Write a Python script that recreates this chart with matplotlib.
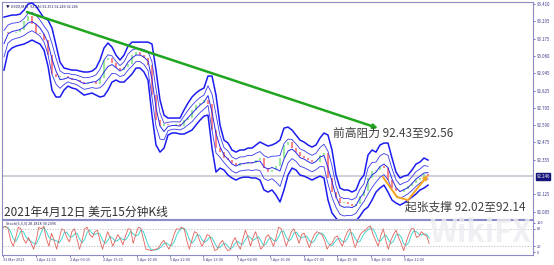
# USDX M15 chart with bands, stochastic and annotations
import matplotlib
matplotlib.use("Agg")
import matplotlib.pyplot as plt
import numpy as np
import pandas as pd

plt.rcParams['font.family'] = ['Noto Sans CJK SC', 'DejaVu Sans']

# closes sampled along the chart (one value every few 15-min bars)
close = [93.221, 93.214, 93.214, 93.221, 93.234, 93.295, 93.329, 93.275, 93.214, 93.207,
         93.167, 93.065, 92.937, 92.917, 92.924, 92.924, 92.910, 92.897, 92.897, 92.883,
         92.870, 92.876, 92.883, 92.870, 92.910, 93.032, 93.045, 93.011, 92.978, 92.964,
         92.984, 93.005, 93.065, 93.086, 93.065, 93.045, 92.998, 92.795, 92.626, 92.586,
         92.599, 92.593, 92.593, 92.599, 92.586, 92.626, 92.640, 92.694, 92.728, 92.741,
         92.762, 92.735, 92.559, 92.437, 92.410, 92.370, 92.356, 92.336, 92.316, 92.336,
         92.329, 92.343, 92.336, 92.356, 92.370, 92.302, 92.275, 92.289, 92.316, 92.370,
         92.458, 92.478, 92.437, 92.410, 92.383, 92.370, 92.356, 92.343, 92.343, 92.390,
         92.404, 92.235, 92.140, 92.100, 92.066, 92.073, 92.059, 92.046, 92.059, 92.113,
         92.147, 92.235, 92.282, 92.289, 92.316, 92.302, 92.221, 92.167, 92.147, 92.140,
         92.160, 92.181, 92.201, 92.221, 92.235, 92.262, 92.246]

upper = [93.322, 93.329, 93.336, 93.336, 93.342, 93.369, 93.410, 93.417, 93.396, 93.356,
         93.315, 93.302, 93.248, 93.133, 93.018, 92.978, 92.971, 92.964, 92.964, 92.957,
         92.951, 92.951, 92.957, 92.978, 93.032, 93.113, 93.147, 93.119, 93.065, 93.032,
         93.065, 93.126, 93.153, 93.153, 93.153, 93.153, 93.153, 93.140, 92.964, 92.762,
         92.660, 92.640, 92.640, 92.640, 92.640, 92.694, 92.741, 92.782, 92.809, 92.829,
         92.843, 92.924, 92.924, 92.795, 92.593, 92.491, 92.471, 92.424, 92.410, 92.424,
         92.424, 92.437, 92.437, 92.458, 92.478, 92.464, 92.451, 92.458, 92.471, 92.491,
         92.572, 92.579, 92.559, 92.525, 92.491, 92.478, 92.458, 92.444, 92.458, 92.505,
         92.539, 92.525, 92.424, 92.255, 92.167, 92.154, 92.154, 92.140, 92.154, 92.221,
         92.255, 92.390, 92.424, 92.410, 92.458, 92.471, 92.471, 92.370, 92.275, 92.235,
         92.248, 92.255, 92.289, 92.329, 92.343, 92.370, 92.356]

lower = [92.964, 93.086, 93.113, 93.126, 93.133, 93.140, 93.153, 93.167, 93.153, 93.140,
         93.099, 92.991, 92.829, 92.782, 92.782, 92.829, 92.856, 92.843, 92.836, 92.816,
         92.795, 92.802, 92.809, 92.795, 92.782, 92.789, 92.829, 92.883, 92.897, 92.883,
         92.883, 92.910, 92.937, 92.978, 92.978, 92.951, 92.897, 92.660, 92.458, 92.410,
         92.437, 92.525, 92.539, 92.539, 92.532, 92.532, 92.545, 92.559, 92.593, 92.626,
         92.653, 92.660, 92.437, 92.275, 92.302, 92.289, 92.255, 92.235, 92.221, 92.235,
         92.241, 92.241, 92.235, 92.235, 92.221, 92.154, 92.140, 92.154, 92.120, 92.073,
         92.154, 92.255, 92.302, 92.289, 92.255, 92.248, 92.235, 92.221, 92.235, 92.248,
         92.235, 92.086, 91.998, 91.964, 91.930, 91.920, 91.925, 91.930, 91.945, 91.978,
         92.018, 92.039, 92.086, 92.140, 92.167, 92.187, 92.140, 92.086, 92.066, 92.052,
         92.066, 92.086, 92.106, 92.127, 92.154, 92.167, 92.187]

stoch_k = [85, 88, 80, 40, 20, 50, 85, 80, 45, 30, 50, 30, 10, 40, 85, 80, 88, 45, 20, 65,
           40, 10, 45, 80, 75, 50, 35, 70, 80, 45, 10, 40, 80, 85, 60, 50, 70, 75, 40, 10,
           40, 70, 50, 20, 40, 60, 45, 25, 55, 80, 78, 30, 60, 85, 82, 45, 10, 8, 5, 8,
           10, 15, 30, 40, 25, 10, 30, 60, 80, 78, 85, 80, 40, 10, 40, 70, 65, 40, 20, 40,
           60, 55, 30, 5, 10, 30, 40, 20, 5, 8, 35, 50, 25, 10, 45, 75, 50, 20, 50, 70,
           40, 10, 20, 50, 60, 40, 20, 50, 85,
           80, 50, 20, 45, 70, 80, 55, 30, 60, 65, 40, 15, 40, 60, 70, 65, 60, 40, 10, 25,
           30, 50, 55, 35, 20, 50, 70, 80, 45, 15, 40, 60, 70, 75, 85, 90, 60, 40, 20, 55,
           80, 40, 10, 40, 60, 75, 50, 30, 5, 35, 60, 80, 80, 50, 55, 70, 60, 55, 30]

price_ticks = [93.410, 93.295, 93.175, 93.060, 92.945, 92.825, 92.705, 92.590,
               92.475, 92.355, 92.125, 92.005]
last_price = 92.246
stoch_ticks = [100, 80, 20, 0]
time_labels = ['31 Mar 2021', '1 Apr 12:15', '2 Apr 03:15', '2 Apr 15:15', '5 Apr 10:00',
               '5 Apr 22:00', '6 Apr 13:00', '7 Apr 04:00', '7 Apr 16:00', '8 Apr 07:00',
               '8 Apr 19:00', '9 Apr 10:00', '9 Apr 22:00']

# drawn annotations: (bar index, price)
resist_line = [(5.75, 93.356), (93.5, 92.572)]
support_line = [(94.75, 92.241), (98.25, 92.106), (101.0, 92.086), (106.0, 92.255)]
resist_text = '前高阻力 92.43至92.56'
support_text = '起张支撑 92.02至92.14'
title_text = '2021年4月12日 美元15分钟K线'
header_text = '▼ USDX,M15  92.246 92.251 92.246 92.246'
stoch_text = 'Stoch(5,3,3) 28.1818 39.2396'

W, H = 554, 265
fig = plt.figure(figsize=(W / 100, H / 100), dpi=100)
ax = fig.add_axes([2 / W, 1 - 219 / H, 531 / W, 217 / H])
ax2 = fig.add_axes([2 / W, 1 - 255 / H, 531 / W, 35 / H])

axis_col = '#8c8cc8'
lab_col = '#3a3a8a'
for a in (ax, ax2):
    for s in a.spines.values():
        s.set_color(axis_col)
        s.set_linewidth(0.8)

x = np.arange(len(close))
c = np.array(close)
o = np.r_[c[0], c[:-1]]
up = c >= o
ax.vlines(x[up], o[up], c[up], colors='#8ee88e', lw=1.3, zorder=2)
ax.vlines(x[~up], o[~up], c[~up], colors='#ff7a7a', lw=1.3, zorder=2)

u = np.array(upper)
l = np.array(lower)
mid = (u + l) / 2
half = (u - l) / 2
ax.plot(x, u, color='#1c1cf0', lw=1.1, zorder=3)
ax.plot(x, l, color='#1c1cf0', lw=1.1, zorder=3)
ax.plot(x, mid, color='#2a2ae8', lw=0.7, zorder=3)
ax.plot(x, mid + half * 0.5, color='#3a3ae8', lw=0.6, zorder=3)
ax.plot(x, mid - half * 0.5, color='#3a3ae8', lw=0.6, zorder=3)

ax.axhline(last_price, color='#cfd0d8', lw=1.4, zorder=1)

ax.annotate('', xy=resist_line[1], xytext=resist_line[0],
            arrowprops=dict(arrowstyle='-|>', color='#1fa51f', lw=1.8,
                            mutation_scale=6, shrinkA=0, shrinkB=0), zorder=5)
sx, sy = zip(*support_line)
ax.plot(sx[:-1], sy[:-1], color='#f5a623', lw=1.4, zorder=5)
ax.annotate('', xy=support_line[-1], xytext=support_line[-2],
            arrowprops=dict(arrowstyle='-|>', color='#f5a623', lw=1.4,
                            mutation_scale=6, shrinkA=0, shrinkB=0), zorder=5)

ax.text(82.3, 92.539, resist_text, fontsize=8.5, color='#404040', va='center', ha='left', zorder=6)
ax.text(100.3, 92.039, support_text, fontsize=8.5, color='#404040', va='center', ha='left', zorder=6)
ax.text(0.0, 92.003, title_text, fontsize=8.5, color='#303030', va='center', ha='left', zorder=6)
ax.text(0.4, 93.395, header_text, fontsize=2.7, color='#202060', va='center', ha='left', zorder=6)

ax.set_xlim(-0.5, 132.25)
ax.set_ylim(91.958, 93.424)
ax.yaxis.tick_right()
ax.set_yticks(price_ticks)
ax.set_yticklabels(['%.3f' % v for v in price_ticks])
ax.tick_params(axis='y', labelsize=3.1, colors=lab_col, length=1.5, pad=1, width=0.5)
ax.set_xticks([])
ax.annotate('%.3f' % last_price, xy=(1.0, last_price), xycoords=('axes fraction', 'data'),
            xytext=(2.5, 0), textcoords='offset points', fontsize=3.1, color='white',
            va='center', ha='left',
            bbox=dict(boxstyle='square,pad=0.15', fc='#14147a', ec='#14147a'),
            annotation_clip=False)

# stochastic panel
k = pd.Series(stoch_k, dtype=float)
d = k.rolling(3, min_periods=1).mean()
sxs = np.linspace(-0.25, len(close) - 0.7, len(stoch_k))
ax2.plot(sxs, d, color='#40d6d0', lw=0.7)
ax2.plot(sxs, k, color='#e0605a', lw=0.6)
for lv in (20, 80):
    ax2.axhline(lv, color='#b0b0b8', lw=0.5, ls=(0, (2, 2)))
ax2.set_xlim(-0.5, 132.25)
ax2.set_ylim(-10, 110)
ax2.yaxis.tick_right()
ax2.set_yticks(stoch_ticks)
ax2.tick_params(axis='y', labelsize=2.8, colors=lab_col, length=1.5, pad=1, width=0.5)
ax2.text(0.4, 97, stoch_text, fontsize=2.7, color='#202060', va='center', ha='left')

tick_pos = np.arange(len(time_labels)) * 8.36 - 0.3
ax2.set_xticks(tick_pos)
ax2.set_xticklabels(time_labels)
ax2.tick_params(axis='x', labelsize=2.8, colors=lab_col, length=1.5, pad=1, width=0.5)
for t in ax2.get_xticklabels():
    t.set_ha('left')

fig.text(480 / W, 1 - 233 / H, 'WikiFX', fontsize=22, color='#ececf2', weight='bold',
         style='italic', ha='center', va='center', alpha=0.8)

fig.savefig('out.png', dpi=100)
